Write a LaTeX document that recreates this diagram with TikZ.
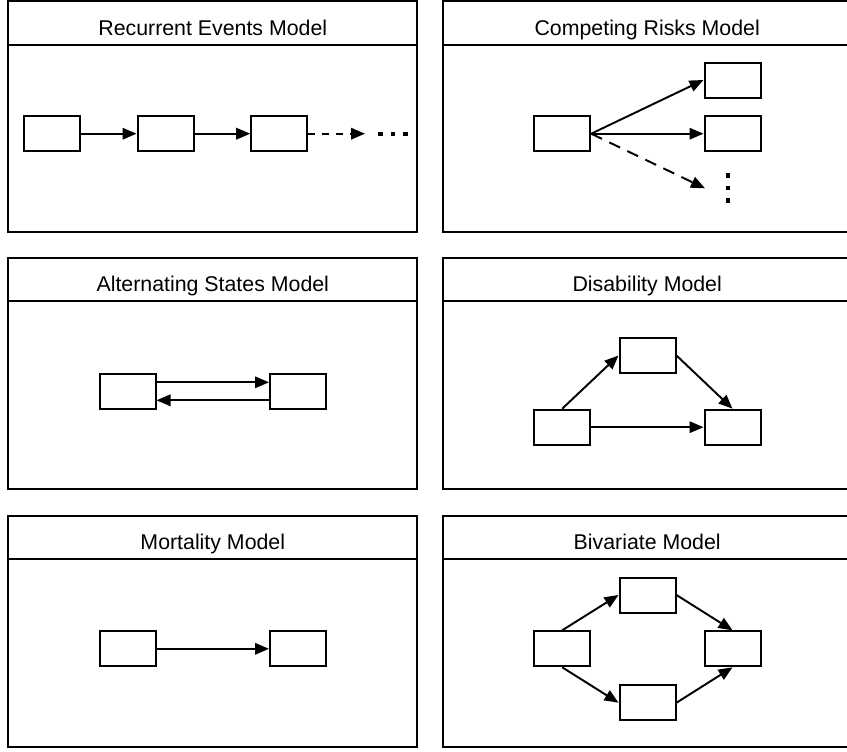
\documentclass[tikz,border=0pt]{standalone}
\usepackage{fontspec}
\setmainfont{Liberation Sans}
\usetikzlibrary{arrows.meta,calc}

\tikzset{
  frame/.style={line width=1.5pt},
  title/.style={anchor=base,font=\fontsize{16}{19}\selectfont,inner sep=0pt},
  statebox/.style={draw,line width=1.5pt,minimum width=42pt,minimum height=26.25pt,inner sep=0pt,fill=white},
  trans/.style={line width=1.45pt,-{Triangle[length=10.5pt,width=8.6pt]}},
  dashshort/.style={dash pattern=on 5.25pt off 5.25pt},
  dashlong/.style={dash pattern=on 9pt off 6pt},
  dotmark/.style={fill,minimum size=3.1pt,inner sep=0pt},
}

% #1 left x, #2 top y, #3 node name, #4 title text
\newcommand\modelpanel[4]{%
  \draw[frame] (#1,#2) rectangle ++(409,231);
  \draw[frame] (#1,#2+43.5) -- ++(409,0);
  \node[title] (#3) at (#1+204.5,#2+34) {#4};
}

\begin{document}
\begin{tikzpicture}[x=0.75pt,y=-0.75pt]
  \clip (0,0) rectangle (847,751);
  \fill[white] (0,0) rectangle (847,751);

  % frames and titles
  \modelpanel{8.3}{1}{t1}{Recurrent Events Model}
  \modelpanel{442.7}{1}{t2}{Competing Risks Model}
  \modelpanel{8.3}{257.5}{t3}{Alternating States Model}
  \modelpanel{442.7}{257.5}{t4}{Disability Model}
  \modelpanel{8.3}{515.5}{t5}{Mortality Model}
  \modelpanel{442.7}{515.5}{t6}{Bivariate Model}

  % recurrent events
  \node[statebox] (r1) at (51.7,133.7) {};
  \node[statebox] (r2) at (165.5,133.7) {};
  \node[statebox] (r3) at (279.2,133.7) {};
  \coordinate (rend) at (365,133.7);
  \draw[trans] (r1) -- (r2);
  \draw[trans] (r2) -- (r3);
  \draw[trans,dashshort] (r3) -- (rend);
  \node[dotmark] (rd1) at (380.5,133.7) {};
  \node[dotmark] (rd2) at (393,133.7) {};
  \node[dotmark] (rd3) at (405.5,133.7) {};

  % competing risks
  \node[statebox] (c0) at (562.2,133.7) {};
  \node[statebox] (c1) at (732.5,80) {};
  \node[statebox] (c2) at (732.5,133.7) {};
  \coordinate (cend) at (705,188.3);
  \draw[trans] (c0.east) -- (c1.west);
  \draw[trans] (c0.east) -- (c2.west);
  \draw[trans,dashlong] (c0.east) -- (cend);
  \node[dotmark] (cd1) at (728.3,175.5) {};
  \node[dotmark] (cd2) at (728.3,188) {};
  \node[dotmark] (cd3) at (728.3,200.5) {};

  % alternating states
  \node[statebox] (a1) at (127.5,391.3) {};
  \node[statebox] (a2) at (298,391.3) {};
  \draw[trans] ($(a1.east)+(0,-9)$) -- ($(a2.west)+(0,-9)$);
  \draw[trans] ($(a2.west)+(0,9)$) -- ($(a1.east)+(0,9)$);

  % disability
  \node[statebox] (d1) at (647.5,355.5) {};
  \node[statebox] (d0) at (562.2,427.2) {};
  \node[statebox] (d2) at (732.5,427.2) {};
  \draw[trans] (d0.north) -- (d1.west);
  \draw[trans] (d1.east) -- (d2.north);
  \draw[trans] (d0.east) -- (d2.west);

  % mortality
  \node[statebox] (m1) at (127.5,648.8) {};
  \node[statebox] (m2) at (298,648.8) {};
  \draw[trans] (m1) -- (m2);

  % bivariate
  \node[statebox] (b0) at (562.2,648.8) {};
  \node[statebox] (b1) at (647.5,595) {};
  \node[statebox] (b2) at (647.5,702.7) {};
  \node[statebox] (b3) at (732.5,648.8) {};
  \draw[trans] (b0.north) -- (b1.west);
  \draw[trans] (b0.south) -- (b2.west);
  \draw[trans] (b1.east) -- (b3.north);
  \draw[trans] (b2.east) -- (b3.south);
\end{tikzpicture}
\end{document}
